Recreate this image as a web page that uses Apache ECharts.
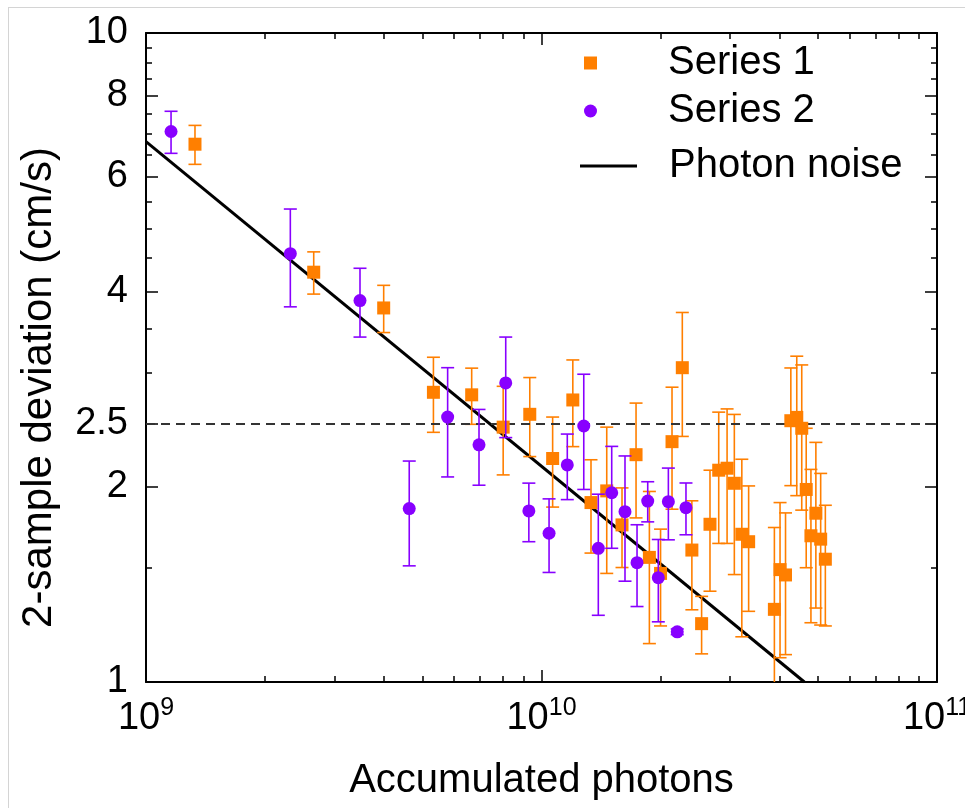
<!DOCTYPE html>
<html>
<head>
<meta charset="utf-8">
<script src="https://cdn.jsdelivr.net/npm/echarts@6/dist/echarts.min.js"></script>
<style>
  html, body { margin: 0; padding: 0; background: #fff; overflow: hidden; width: 965px; height: 808px; }
  #frame { position: absolute; left: 8px; top: 7px; width: 957px; height: 801px; border-left: 1px solid #d4d4d4; border-top: 1px solid #d4d4d4; box-sizing: border-box; }
  #chart { position: absolute; left: 0; top: 0; width: 965px; height: 808px; }
</style>
</head>
<body>
<div id="frame"></div>
<div id="chart"></div>
<script>
// ---- Data ----
const s1X = [1.33e9, 2.655e9, 3.99e9, 5.33e9, 6.66e9, 8.0e9, 9.34e9, 1.067e10, 1.20e10, 1.334e10,
             1.462e10, 1.598e10, 1.734e10, 1.874e10, 2.0e10, 2.138e10, 2.27e10, 2.40e10, 2.54e10, 2.667e10,
             2.806e10, 2.946e10, 3.073e10, 3.21e10, 3.34e10, 3.88e10, 4.01e10, 4.14e10, 4.27e10, 4.42e10,
             4.55e10, 4.67e10, 4.80e10, 4.94e10, 5.08e10, 5.22e10];
const s1Y = [6.74, 4.28, 3.77, 2.795, 2.77, 2.47, 2.585, 2.21, 2.72, 1.89,
             1.97, 1.746, 2.24, 1.556, 1.47, 2.346, 3.05, 1.597, 1.23, 1.75,
             2.12, 2.135, 2.024, 1.689, 1.645, 1.294, 1.49, 1.462, 2.527, 2.557,
             2.46, 1.98, 1.68, 1.82, 1.66, 1.546];
const s1Err = [0.465, 0.32, 0.315, 0.37, 0.275, 0.385, 0.36, 0.35, 0.415, 0.31,
               0.50, 0.245, 0.45, 0.41, 0.25, 0.50, 0.66, 0.305, 0.125, 0.37,
               0.485, 0.50, 0.56, 0.515, 0.36, 0.436, 0.40, 0.36, 0.52, 0.62,
               0.62, 0.48, 0.446, 0.52, 0.436, 0.326];

const s2X = [1.157e9, 2.317e9, 3.476e9, 4.63e9, 5.79e9, 6.95e9, 8.12e9, 9.29e9, 1.045e10, 1.162e10,
             1.279e10, 1.392e10, 1.505e10, 1.626e10, 1.744e10, 1.856e10, 1.974e10, 2.093e10, 2.204e10, 2.319e10];
const s2Y = [7.05, 4.57, 3.87, 1.85, 2.56, 2.32, 2.89, 1.835, 1.695, 2.16,
             2.48, 1.607, 1.957, 1.83, 1.527, 1.90, 1.448, 1.896, 1.195, 1.856];
const s2Err = [0.525, 0.785, 0.47, 0.34, 0.49, 0.31, 0.51, 0.19, 0.22, 0.25,
               0.50, 0.34, 0.35, 0.40, 0.22, 0.135, 0.21, 0.24, 0.012, 0.17];

const noiseX = [1e9, 4.62e10];
const noiseY = [6.80, 1.0];
const thresholdY = 2.5;

const xLabelValues = [1e9, 1e10, 1e11];
const xMinorTicks = [2e9, 3e9, 4e9, 5e9, 6e9, 7e9, 8e9, 9e9, 2e10, 3e10, 4e10, 5e10, 6e10, 7e10, 8e10, 9e10];
const yLabelValues = [1, 2, 2.5, 4, 6, 8, 10];
const yMinorTicks = [1.5, 3, 3.5, 4.5, 5, 5.5, 6.5, 7, 7.5, 8.5, 9, 9.5];

const names = { s1: 'Series 1', s2: 'Series 2', noise: 'Photon noise' };
const xTitle = 'Accumulated photons';
const yTitle = '2-sample deviation (cm/s)';

// ---- Styles ----
const FONT = 'Liberation Sans, Arial, sans-serif';
const ORANGE = '#ff7f00';
const PURPLE = '#8800ff';

const pts1 = s1X.map((x, i) => [x, s1Y[i]]);
const pts2 = s2X.map((x, i) => [x, s2Y[i]]);
const err1 = s1X.map((x, i) => [x, s1Y[i] - s1Err[i], s1Y[i] + s1Err[i]]);
const err2 = s2X.map((x, i) => [x, s2Y[i] - s2Err[i], s2Y[i] + s2Err[i]]);
const noise = noiseX.map((x, i) => [x, noiseY[i]]);

function errRender(color) {
  return function (params, api) {
    const x = api.value(0), lo = api.value(1), hi = api.value(2);
    const a = api.coord([x, hi]);
    const b = api.coord([x, lo]);
    const w = 6.5;
    const st = { stroke: color, lineWidth: 1.6 };
    return {
      type: 'group',
      children: [
        { type: 'line', shape: { x1: a[0], y1: a[1], x2: b[0], y2: b[1] }, style: st },
        { type: 'line', shape: { x1: a[0] - w, y1: a[1], x2: a[0] + w, y2: a[1] }, style: st },
        { type: 'line', shape: { x1: b[0] - w, y1: b[1], x2: b[0] + w, y2: b[1] }, style: st }
      ]
    };
  };
}

const lineStyleAxis = { color: '#000', width: 2 };
function xAx(pos, major, showLine, showLabel) {
  return {
    type: 'log', logBase: 10, min: 1e9, max: 1e11, position: pos,
    axisLine: { show: showLine, onZero: false, lineStyle: lineStyleAxis },
    axisTick: { show: true, inside: true, length: major ? 12 : 6,
      lineStyle: { color: '#000', width: 1.5 },
      customValues: major ? xLabelValues : xMinorTicks },
    axisLabel: showLabel ? {
      show: true, customValues: xLabelValues, margin: 14,
      formatter: v => '10{s|' + Math.round(Math.log10(v)) + '}',
      color: '#000', fontFamily: FONT, fontSize: 38,
      rich: { s: { fontSize: 25, fontFamily: FONT, color: '#000', padding: [0, 0, 20, 0] } }
    } : { show: false },
    splitLine: { show: false },
    name: showLabel ? xTitle : '',
    nameLocation: 'middle', nameGap: 79,
    nameTextStyle: { fontFamily: FONT, fontSize: 40, color: '#000' }
  };
}
function yAx(pos, major, showLine, showLabel) {
  return {
    type: 'log', logBase: 10, min: 1, max: 10, position: pos,
    axisLine: { show: showLine, onZero: false, lineStyle: lineStyleAxis },
    axisTick: { show: true, inside: true, length: major ? 12 : 6,
      lineStyle: { color: '#000', width: 1.5 },
      customValues: major ? yLabelValues : yMinorTicks },
    axisLabel: showLabel ? {
      show: true, customValues: yLabelValues, margin: 18,
      formatter: v => String(v),
      color: '#000', fontFamily: FONT, fontSize: 38
    } : { show: false },
    splitLine: { show: false },
    name: showLabel ? yTitle : '',
    nameLocation: 'middle', nameGap: 86,
    nameTextStyle: { fontFamily: FONT, fontSize: 42, color: '#000', padding: [0, 60, 0, 0] }
  };
}

const chart = echarts.init(document.getElementById('chart'), null, { renderer: 'canvas', width: 965, height: 808 });
chart.setOption({
  animation: false,
  backgroundColor: 'transparent',
  grid: { left: 146, right: 28, top: 33, bottom: 126, containLabel: false, outerBoundsMode: 'none' },
  xAxis: [xAx('bottom', true, true, true), xAx('bottom', false, false, false),
          xAx('top', true, true, false), xAx('top', false, false, false)],
  yAxis: [yAx('left', true, true, true), yAx('left', false, false, false),
          yAx('right', true, true, false), yAx('right', false, false, false)],
  legend: [
    {
      data: [names.s1, names.s2], orient: 'vertical', left: 579, top: 38,
      itemWidth: 13, itemHeight: 13, itemGap: 8, selectedMode: false,
      textStyle: { fontFamily: FONT, fontSize: 40, color: '#000', lineHeight: 40, padding: [0, 0, 0, 66] }
    },
    {
      data: [{ name: names.noise, icon: 'rect' }], orient: 'vertical', left: 575, top: 141,
      itemWidth: 57, itemHeight: 3, selectedMode: false,
      textStyle: { fontFamily: FONT, fontSize: 40, color: '#000', lineHeight: 40, padding: [0, 0, 0, 27] }
    }
  ],
  series: [
    {
      name: names.noise, type: 'line', data: noise, showSymbol: false, symbol: 'none',
      lineStyle: { color: '#000', width: 3 }, itemStyle: { color: '#000' },
      z: 3,
      markLine: {
        silent: true, symbol: ['none', 'none'], label: { show: false },
        lineStyle: { color: '#333', width: 2, type: [9, 6] },
        data: [{ yAxis: thresholdY }]
      }
    },
    {
      name: 'err1', type: 'custom', data: err1, encode: { x: 0, y: [1, 2] },
      renderItem: errRender(ORANGE), clip: true, z: 4
    },
    {
      name: names.s1, type: 'scatter', data: pts1, symbol: 'rect', symbolSize: 13,
      itemStyle: { color: ORANGE, opacity: 1 }, z: 5
    },
    {
      name: 'err2', type: 'custom', data: err2, encode: { x: 0, y: [1, 2] },
      renderItem: errRender(PURPLE), clip: true, z: 6
    },
    {
      name: names.s2, type: 'scatter', data: pts2, symbol: 'circle', symbolSize: 13,
      itemStyle: { color: PURPLE, opacity: 1 }, z: 7
    }
  ]
});
</script>
</body>
</html>
